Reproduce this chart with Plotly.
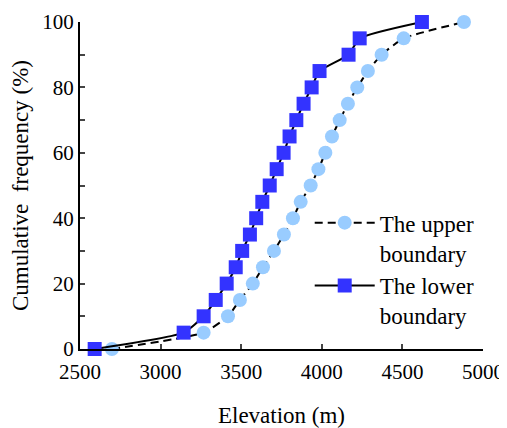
import plotly.graph_objects as go

freq = [0, 5, 10, 15, 20, 25, 30, 35, 40, 45, 50, 55, 60, 65, 70, 75, 80, 85, 90, 95, 100]
upper_elev = [2698, 3267, 3418, 3492, 3572, 3635, 3703, 3765, 3821, 3869, 3931,
              3979, 4022, 4063, 4111, 4162, 4220, 4286, 4371, 4508, 4882]
lower_elev = [2591, 3143, 3267, 3342, 3410, 3466, 3506, 3554, 3593, 3631, 3677,
              3720, 3763, 3800, 3842, 3887, 3937, 3986, 4166, 4235, 4621]

x_ticks = [2500, 3000, 3500, 4000, 4500, 5000]
y_ticks = [0, 20, 40, 60, 80, 100]

FONT = "Liberation Serif"

fig = go.Figure()
fig.add_trace(go.Scatter(
    x=upper_elev, y=freq, mode="lines+markers",
    name="The upper<br>boundary",
    line=dict(color="black", width=2, dash="8px,5px", shape="spline", smoothing=0.5),
    marker=dict(symbol="circle", size=14, color="#99CCFF"),
    cliponaxis=False,
))
fig.add_trace(go.Scatter(
    x=lower_elev, y=freq, mode="lines+markers",
    name="The lower<br>boundary",
    line=dict(color="black", width=2, shape="spline", smoothing=0.5),
    marker=dict(symbol="square", size=14, color="#3333FF"),
    cliponaxis=False,
))

fig.update_layout(
    width=499, height=420,
    margin=dict(l=72, r=24, t=14, b=79),
    paper_bgcolor="white", plot_bgcolor="white",
    font=dict(family=FONT, size=20, color="black"),
    showlegend=True,
    legend=dict(
        x=0.57, y=0.452, xanchor="left", yanchor="top",
        bgcolor="rgba(0,0,0,0)", valign="top",
        font=dict(family=FONT, size=23, color="black"),
        tracegroupgap=4, itemwidth=60,
    ),
    xaxis=dict(
        range=[2500, 5000], tickvals=x_ticks, ticks="inside", ticklen=5,
        tickwidth=1.5, showline=True, linecolor="black", linewidth=2,
        showgrid=False, zeroline=False, mirror=False, automargin=False,
        tickfont=dict(family=FONT, size=21), ticklabelstandoff=3,
        title=dict(text="Elevation (m)", font=dict(family=FONT, size=23), standoff=24),
    ),
    yaxis=dict(
        range=[0, 100], tickvals=[0, 10, 20, 30, 40, 50, 60, 70, 80, 90, 100],
        ticktext=["0", "", "20", "", "40", "", "60", "", "80", "", "100"],
        ticks="inside", ticklen=5, tickwidth=1.5,
        showline=True, linecolor="black", linewidth=2,
        showgrid=False, zeroline=False, mirror=False, automargin=False,
        tickfont=dict(family=FONT, size=21),
        title=dict(text="Cumulative\u00a0 frequency (%)", font=dict(family=FONT, size=23), standoff=7),
    ),
)

fig.write_html("out.html")
